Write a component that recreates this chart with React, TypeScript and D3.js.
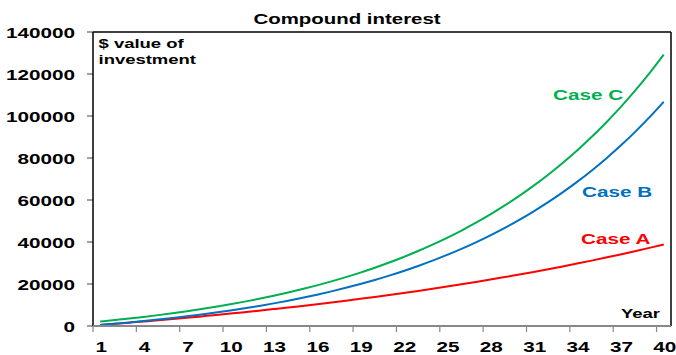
import React from "react";
import * as d3 from "d3";

const years: number[] = Array.from({ length: 40 }, (_, i) => i + 1);
const tickYears: number[] = [1, 4, 7, 10, 13, 16, 19, 22, 25, 28, 31, 34, 37, 40];
const yTicks: number[] = [0, 20000, 40000, 60000, 80000, 100000, 120000, 140000];

const caseA: number[] = [
  515, 1046, 1592, 2155, 2734, 3331, 3946, 4580, 5232, 5904,
  6596, 7309, 8043, 8799, 9578, 10381, 11207, 12058, 12935, 13838,
  14768, 15726, 16713, 17730, 18777, 19855, 20965, 22109, 23288, 24501,
  25751, 27039, 28365, 29731, 31138, 32587, 34080, 35617, 37201, 38832,
];
const caseB: number[] = [
  535, 1107, 1720, 2375, 3077, 3827, 4630, 5489, 6408, 7392,
  8444, 9570, 10775, 12065, 13444, 14920, 16500, 18190, 19998, 21933,
  24003, 26218, 28589, 31125, 33838, 36742, 39849, 43173, 46731, 50537,
  54609, 58967, 63630, 68619, 73957, 79669, 85781, 92321, 99318, 106804,
];
const caseC: number[] = [
  2140, 2825, 3558, 4342, 5181, 6078, 7039, 8066, 9166, 10343,
  11601, 12948, 14390, 15933, 17583, 19348, 21238, 23260, 25423, 27738,
  30214, 32864, 35700, 38734, 41979, 45453, 49170, 53146, 57402, 61955,
  66827, 72040, 77618, 83586, 89972, 96805, 104116, 111940, 120310, 129266,
];

const W = 676;
const H = 355;
const L = 93;
const R = 671;
const T = 32;
const B = 326;
const SX = 1.38;
const FONT = "Arial, 'Liberation Sans', sans-serif";

const x = d3.scaleBand<number>().domain(years).range([L, R]).padding(0);
const y = d3.scaleLinear().domain([0, 140000]).range([B, T]);
const cx = (yr: number) => (x(yr) as number) + x.bandwidth() / 2;

const line = d3
  .line<number>()
  .x((_, i) => cx(years[i]))
  .y((v) => y(v))
  .curve(d3.curveMonotoneX);

function SText(props: {
  x: number;
  y: number;
  anchor?: "start" | "middle" | "end";
  size?: number;
  fill?: string;
  children: React.ReactNode;
}) {
  const { x: px, y: py, anchor = "start", size = 15, fill = "#000", children } = props;
  return (
    <g transform={`translate(${px},${py}) scale(${SX},1)`}>
      <text
        x={0}
        y={0}
        textAnchor={anchor}
        fontFamily={FONT}
        fontWeight="bold"
        fontSize={size}
        fill={fill}
      >
        {children}
      </text>
    </g>
  );
}

const series = [
  { name: "Case A", data: caseA, color: "#FF0000" },
  { name: "Case B", data: caseB, color: "#0070C0" },
  { name: "Case C", data: caseC, color: "#00B050" },
];

export default function App() {
  return (
    <svg
      width={W}
      height={H}
      style={{ position: "absolute", left: 0, top: 0, background: "#fff" }}
    >
      <rect x={0} y={0} width={W} height={H} fill="#fff" />
      {/* title */}
      <SText x={347} y={23.5} anchor="middle" size={14.8}>
        Compound interest
      </SText>

      {/* y ticks + labels */}
      {yTicks.map((t) => (
        <g key={t}>
          <line x1={L - 6} x2={L} y1={y(t)} y2={y(t)} stroke="#444" strokeWidth={1} />
          <SText x={75} y={y(t) + 5.5} anchor="end" size={15}>
            {t}
          </SText>
        </g>
      ))}

      {/* x ticks + labels */}
      {tickYears.map((t) => (
        <g key={t}>
          <line
            x1={x(t) as number}
            x2={x(t) as number}
            y1={B}
            y2={B + 6}
            stroke="#888"
            strokeWidth={1.2}
          />
          <SText x={cx(t) + 1} y={351.5} anchor="middle" size={15}>
            {t}
          </SText>
        </g>
      ))}

      {/* series */}
      {series.map((s) => (
        <path
          key={s.name}
          d={line(s.data) as string}
          fill="none"
          stroke={s.color}
          strokeWidth={2}
        />
      ))}

      {/* frame */}
      <line x1={L} x2={R} y1={T} y2={T} stroke="#000" strokeWidth={1.5} />
      <line x1={R} x2={R} y1={T} y2={B} stroke="#000" strokeWidth={1.5} />
      <line x1={L} x2={L} y1={T} y2={B} stroke="#000" strokeWidth={1.5} />
      <line x1={L} x2={R} y1={B} y2={B} stroke="#888" strokeWidth={1.8} />

      {/* annotations */}
      <SText x={98.5} y={48} size={13.4}>
        $ value of
      </SText>
      <SText x={98.5} y={64} size={13.4}>
        investment
      </SText>
      <SText x={553} y={100} size={15} fill="#00B050">
        Case C
      </SText>
      <SText x={582} y={197} size={15} fill="#0070C0">
        Case B
      </SText>
      <SText x={581} y={243.5} size={15} fill="#FF0000">
        Case A
      </SText>
      <SText x={660} y={317.5} anchor="end" size={13.4}>
        Year
      </SText>
    </svg>
  );
}
